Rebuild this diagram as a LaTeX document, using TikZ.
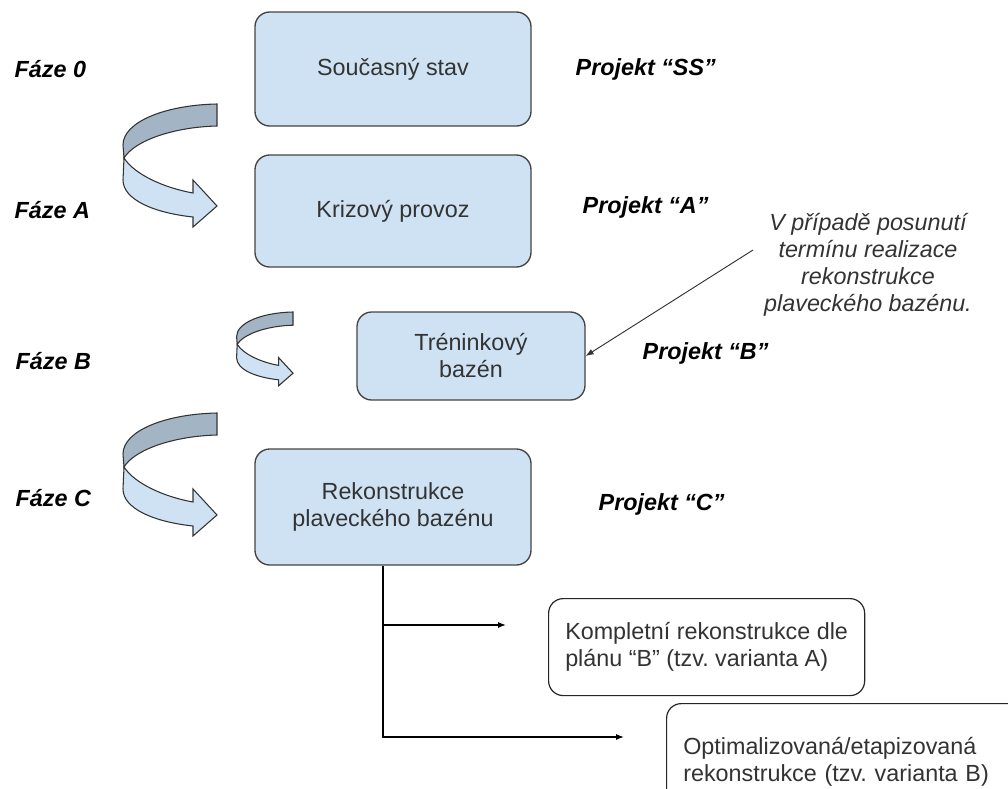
\documentclass[tikz,border=0pt]{standalone}
\usepackage{fontspec}
\setmainfont{Liberation Sans}
\usetikzlibrary{arrows.meta}
\frenchspacing

\definecolor{boxblue}{HTML}{CFE2F3}
\definecolor{backblue}{HTML}{A3B4C4}
\definecolor{edgegray}{HTML}{444444}
\definecolor{textgray}{HTML}{333333}

\tikzset{
  stagebox/.style={draw=edgegray,fill=boxblue,line width=1pt,rounded corners=11pt,
    text=textgray,align=center,font=\fontsize{17.5}{20.25}\selectfont},
  optbox/.style={draw=black!85,fill=white,line width=0.9pt,rounded corners=11pt,
    text=textgray,align=left,inner xsep=12.5pt,anchor=north west,
    font=\fontsize{17.5}{20.25}\selectfont},
  phase/.style={anchor=west,font=\fontsize{17.5}{20}\selectfont\bfseries\itshape},
  project/.style={anchor=west,font=\fontsize{17.5}{20}\selectfont\bfseries\itshape},
  link/.style={-{Latex[length=6pt,width=4.5pt]},line width=0.9pt},
  uturn/.pic={
    % back side of the ribbon
    \filldraw[fill=backblue,draw=black!80,line width=0.8pt]
      (0,0) .. controls (-52,1) and (-94,18) .. (-94,41) -- (-93,54)
      .. controls (-82,36) and (-42,23) .. (0,22) -- cycle;
    % front side with the head
    \filldraw[fill=boxblue,draw=black!80,line width=0.8pt]
      (-93,54) .. controls (-82,71) and (-52,84) .. (-24,89) -- (-24,76)
      -- (0,102) -- (-24,123) -- (-24,113)
      .. controls (-62,109) and (-94,96) .. (-94,76) -- cycle;
  }
}

\begin{document}
\begin{tikzpicture}[x=0.75pt,y=-0.75pt]
  \useasboundingbox (0,0) rectangle (1008,789);
  \clip (0,0) rectangle (1008,789);

  % phases
  \node[phase] (f0) at (10,69) {Fáze 0};
  \node[phase] (fa) at (10,210) {Fáze A};
  \node[phase] (fb) at (11,361) {Fáze B};
  \node[phase] (fc) at (11,498) {Fáze C};

  % stages
  \node[stagebox,minimum width=207pt,minimum height=85.5pt] (s0) at (393,69) {Současný stav};
  \node[stagebox,minimum width=207pt,minimum height=84pt] (sa) at (393,211) {Krizový provoz};
  \node[stagebox,minimum width=171pt,minimum height=66pt] (sb) at (471,356) {Tréninkový\\bazén};
  \node[stagebox,minimum width=207pt,minimum height=87pt] (sc) at (393,507) {Rekonstrukce\\plaveckého bazénu};

  % projects
  \node[project] (p0) at (571,69) {Projekt “SS”};
  \node[project] (pa) at (578,207) {Projekt “A”};
  \node[project] (pb) at (638,353) {Projekt “B”};
  \node[project] (pc) at (594,504) {Projekt “C”};

  % turning arrows
  \pic at (217,104) {uturn};
  \pic[scale=0.6] at (293,312) {uturn};
  \pic at (217,413) {uturn};

  % note
  \node[align=center,text=textgray,font=\fontsize{17.5}{20.25}\selectfont\itshape] (note) at (868,265)
    {V případě posunutí\\termínu realizace\\rekonstrukce\\plaveckého bazénu.};
  \coordinate (noteTail) at (753,250);
  \draw[-{Latex[length=6pt,width=4.5pt]},line width=0.7pt,draw=textgray] (noteTail) -- (sb.east);

  % variants
  \node[optbox,minimum height=72.75pt] (va) at (548,598) {Kompletní rekonstrukce dle\\plánu “B” (tzv. varianta A)};
  \node[optbox,minimum height=87pt,text width=245pt] (vb) at (666,703) {Optimalizovaná/etapizovaná\\rekonstrukce (tzv. varianta B)};

  \coordinate (trunk) at (383,0);
  \coordinate (endA) at (506,625);
  \coordinate (endB) at (624,737);
  \draw[link] (sc.south -| trunk) -- (trunk |- endB) -- (endB);
  \draw[link] (trunk |- endA) -- (endA);
\end{tikzpicture}
\end{document}
